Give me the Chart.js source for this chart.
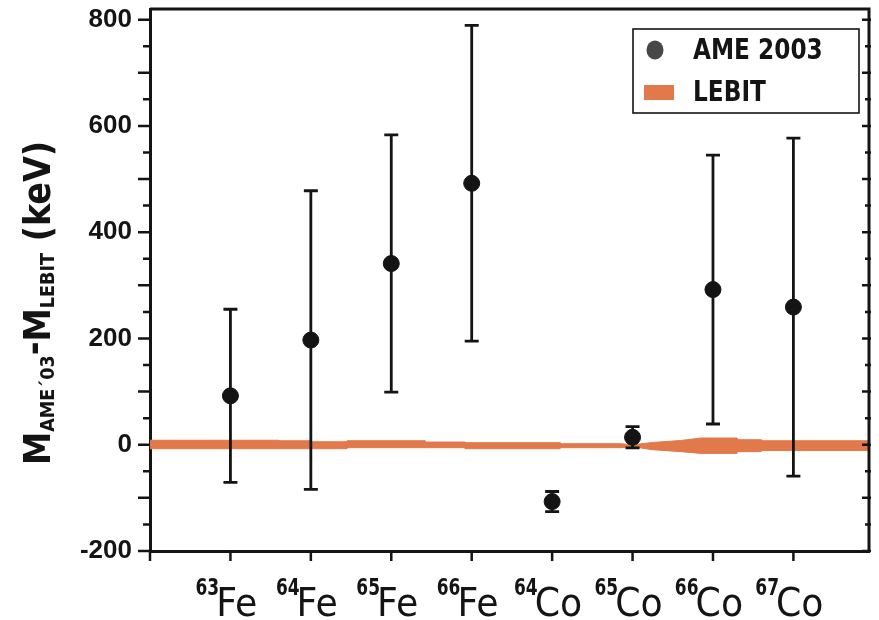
<!DOCTYPE html>
<html>
<head>
<meta charset="utf-8">
<script src="https://cdn.jsdelivr.net/npm/chart.js@4.4.1/dist/chart.umd.min.js"></script>
<style>
  body { margin: 0; background: #fff; }
  canvas { display: block; }
</style>
</head>
<body>
<canvas id="massChart" width="879" height="620"></canvas>
<script>
// isotopes along the x axis (mass number + element)
const massNumbers = ['63', '64', '65', '66', '64', '65', '66', '67'];
const elements = ['Fe', 'Fe', 'Fe', 'Fe', 'Co', 'Co', 'Co', 'Co'];

// AME 2003 minus LEBIT mass, keV, with 1-sigma errors
const ameDiff = [92, 197, 341, 492, -107, 14, 292, 259];
const ameErr = [163, 281, 242, 297, 19, 20, 253, 318];

// LEBIT uncertainty band around zero (x in isotope index units)
const lebitX     = [0, 1.6, 1.6, 2.0, 2.0, 2.45, 2.45, 3.42, 3.42, 3.92, 3.92, 5.1, 5.1, 5.85, 6.0, 6.25, 6.6, 6.85, 7.3, 7.3, 7.6, 7.6, 8.94];
const lebitUpper = [8.4, 8.4, 7.5, 7.5, 5.6, 5.6, 7.5, 7.5, 5.0, 5.0, 3.8, 3.8, 1.9, 1.9, 0.0, 4.3, 8.0, 12.6, 12.6, 9.4, 9.4, 7.5, 7.5];
const lebitLower = [-7.5, -7.5, -7.5, -7.5, -7.5, -7.5, -5.6, -5.6, -5.6, -5.6, -7.5, -7.5, -5.6, -5.6, -3.8, -9.4, -13, -16.3, -16.3, -13, -13, -11, -11];

const yTicks = [-200, 0, 200, 400, 600, 800];

const orange = '#e2794a';
const ink = '#141414';

const points = ameDiff.map((v, i) => ({ x: i + 1, y: v }));
const bandLow = lebitX.map((x, i) => ({ x: x, y: lebitLower[i] }));
const bandHigh = lebitX.map((x, i) => ({ x: x, y: lebitUpper[i] }));

// draw text squeezed horizontally by sx
function squeezed(c, text, x, y, font, sx) {
  c.save();
  c.translate(x, y);
  c.scale(sx, 1);
  c.font = font;
  c.fillText(text, 0, 0);
  c.restore();
}

// error bars, frame, tick marks, isotope labels, axis title and legend box
const decorations = {
  id: 'decorations',
  afterDatasetsDraw(chart) {
    const c = chart.ctx;
    const xs = chart.scales.x, ys = chart.scales.y;
    c.save();
    c.strokeStyle = ink;
    c.lineWidth = 2.8;
    ameDiff.forEach((v, i) => {
      const px = xs.getPixelForValue(i + 1);
      const top = ys.getPixelForValue(v + ameErr[i]);
      const bot = ys.getPixelForValue(v - ameErr[i]);
      c.beginPath();
      c.moveTo(px, top); c.lineTo(px, bot);
      c.moveTo(px - 7, top); c.lineTo(px + 7, top);
      c.moveTo(px - 7, bot); c.lineTo(px + 7, bot);
      c.stroke();
    });
    c.restore();
  },
  afterDraw(chart) {
    const c = chart.ctx;
    const a = chart.chartArea;
    const xs = chart.scales.x, ys = chart.scales.y;
    c.save();
    c.strokeStyle = ink;
    c.lineWidth = 3;
    // top and right edges of the frame
    c.beginPath();
    c.moveTo(a.left, a.top); c.lineTo(a.right, a.top); c.lineTo(a.right, a.bottom);
    c.stroke();

    // y tick marks: out on the left, in on the right
    c.lineWidth = 2.5;
    for (let v = -200; v <= 800; v += 50) {
      const py = ys.getPixelForValue(v);
      const long = v % 100 === 0;
      c.beginPath();
      c.moveTo(a.left, py); c.lineTo(a.left - (long ? 12 : 7), py);
      c.moveTo(a.right + 2, py); c.lineTo(a.right - (long ? 7 : 4), py);
      c.stroke();
    }
    // x tick marks at each isotope and the origin
    for (let i = 0; i <= massNumbers.length; i++) {
      const px = xs.getPixelForValue(i);
      c.beginPath();
      c.moveTo(px, a.bottom); c.lineTo(px, a.bottom + 10);
      c.stroke();
    }

    // isotope labels with superscript mass numbers
    c.fillStyle = ink;
    c.textBaseline = 'alphabetic';
    c.textAlign = 'left';
    const supFont = 'bold 23px "DejaVu Sans"';
    const symFont = '39px "DejaVu Sans"';
    massNumbers.forEach((m, i) => {
      const px = xs.getPixelForValue(i + 1);
      c.font = supFont;
      const wm = c.measureText(m).width * 0.74 - 3;
      c.font = symFont;
      const we = c.measureText(elements[i]).width * 0.93;
      const x0 = px - 4 - (wm + we) / 2;
      squeezed(c, m, x0, 595, supFont, 0.74);
      squeezed(c, elements[i], x0 + wm, 616, symFont, 0.93);
    });

    // rotated y axis title
    const parts = [
      { t: 'M', f: 'bold 38px "DejaVu Sans"', dy: 0 },
      { t: 'AME\u00b4', f: 'bold 20px "DejaVu Sans"', dy: 4 },
      { t: '03', f: 'bold 20px "DejaVu Sans"', dy: 4 },
      { t: '-', f: 'bold 38px "DejaVu Sans"', dy: -4 },
      { t: 'M', f: 'bold 38px "DejaVu Sans"', dy: 0 },
      { t: 'LEBIT', f: 'bold 20px "DejaVu Sans"', dy: 4 },
      { t: ' (keV)', f: 'bold 38px "DejaVu Sans"', dy: 0 }
    ];
    const sx = 0.88;
    let total = 0;
    parts.forEach(p => { c.font = p.f; p.w = c.measureText(p.t).width * sx; total += p.w; });
    c.save();
    c.translate(50, 303);
    c.rotate(-Math.PI / 2);
    let cx = -total / 2;
    parts.forEach(p => {
      squeezed(c, p.t, cx, p.dy, p.f, sx);
      cx += p.w;
    });
    c.restore();

    // legend box
    c.lineWidth = 1.6;
    c.strokeStyle = ink;
    c.strokeRect(633, 29, 226, 84);
    c.fillStyle = '#474747';
    c.beginPath();
    c.ellipse(655, 50, 8.5, 9.5, 0, 0, Math.PI * 2);
    c.fill();
    c.fillStyle = orange;
    c.fillRect(644, 85, 30, 15);
    c.fillStyle = ink;
    squeezed(c, 'AME 2003', 693, 59, 'bold 28px "DejaVu Sans"', 0.83);
    squeezed(c, 'LEBIT', 693, 101, 'bold 28px "DejaVu Sans"', 0.83);
    c.restore();
  }
};

new Chart(document.getElementById('massChart').getContext('2d'), {
  type: 'scatter',
  data: {
    datasets: [
      {
        label: 'AME 2003',
        data: points,
        backgroundColor: ink,
        borderColor: ink,
        pointRadius: 8,
        pointHoverRadius: 8,
        order: 0
      },
      {
        label: 'LEBIT low',
        data: bandLow,
        showLine: true,
        borderColor: orange,
        borderWidth: 1,
        pointRadius: 0,
        fill: false,
        order: 2
      },
      {
        label: 'LEBIT',
        data: bandHigh,
        showLine: true,
        borderColor: orange,
        borderWidth: 1,
        backgroundColor: orange,
        pointRadius: 0,
        fill: '-1',
        order: 1
      }
    ]
  },
  options: {
    responsive: false,
    animation: false,
    layout: { padding: { top: 7, right: 10, left: 0, bottom: 0 } },
    plugins: {
      legend: { display: false },
      tooltip: { enabled: false }
    },
    scales: {
      x: {
        type: 'linear',
        min: 0,
        max: 8.94,
        grid: { display: false },
        border: { display: true, color: ink, width: 3 },
        ticks: { display: false },
        afterFit: (s) => { s.height = 69; s.paddingLeft = 0; s.paddingRight = 0; }
      },
      y: {
        min: -200,
        max: 820,
        afterBuildTicks: (s) => { s.ticks = yTicks.map(v => ({ value: v })); },
        grid: { display: true, drawOnChartArea: false, drawTicks: true, tickLength: 12, tickColor: 'rgba(0,0,0,0)' },
        border: { display: true, color: ink, width: 3 },
        ticks: {
          color: ink,
          padding: 6,
          font: { family: '"Liberation Sans"', size: 26, weight: 'bold' }
        },
        afterFit: (s) => { s.width = 150; s.paddingTop = 0; s.paddingBottom = 0; }
      }
    }
  },
  plugins: [decorations]
});
</script>
</body>
</html>
